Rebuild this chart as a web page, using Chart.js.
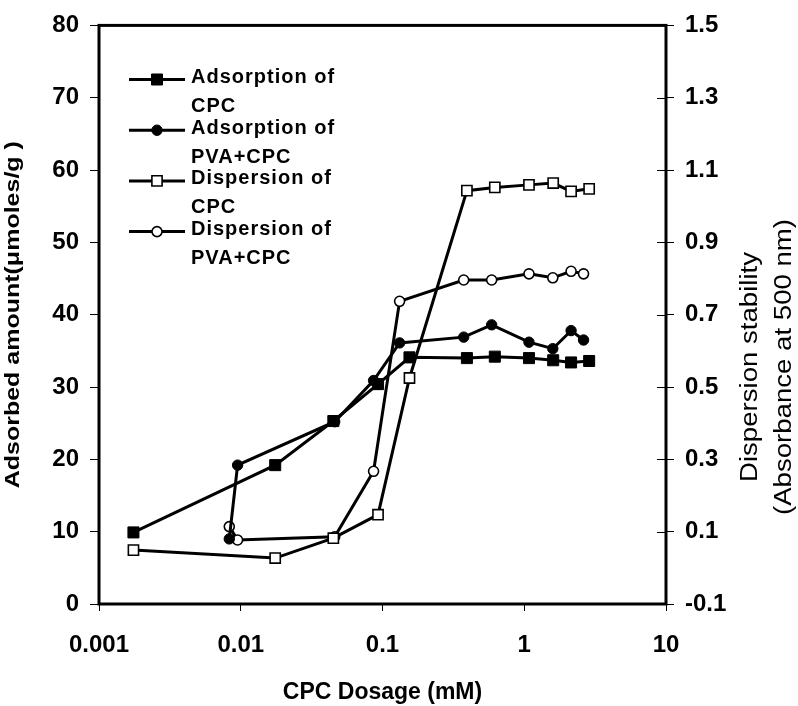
<!DOCTYPE html>
<html>
<head>
<meta charset="utf-8">
<script src="https://cdn.jsdelivr.net/npm/chart.js@4.4.1/dist/chart.umd.min.js"></script>
<style>
  html, body { margin: 0; padding: 0; background: #fff; }
  #wrap { width: 798px; height: 706px; }
</style>
</head>
<body>
<div id="wrap"><canvas id="chart" width="798" height="706"></canvas></div>
<script>
"use strict";

/* ================================
   DATA
   ================================ */
const cpcDose = [0.00175, 0.0175, 0.045, 0.093, 0.155, 0.394, 0.62, 1.08, 1.6, 2.14, 2.87];
const pvaDose = [0.0083, 0.0095, 0.046, 0.0865, 0.132, 0.374, 0.589, 1.08, 1.59, 2.14, 2.62];

// left axis: adsorbed amount (umoles/g)
const adsCpc    = [9.9, 19.2, 25.3, 30.4, 34.1, 34.0, 34.2, 34.0, 33.7, 33.4, 33.6];
const adsPvaCpc = [9.0, 19.2, 25.2, 30.9, 36.1, 36.9, 38.6, 36.2, 35.3, 37.8, 36.5];

// right axis: dispersion stability (absorbance)
const dispCpc    = [0.049, 0.027, 0.082, 0.147, 0.525, 1.043, 1.052, 1.059, 1.064, 1.041, 1.048];
const dispPvaCpc = [0.114, 0.077, 0.086, 0.267, 0.737, 0.796, 0.796, 0.813, 0.802, 0.820, 0.813];

const seriesLabels = [
  ["Adsorption of", "CPC"],
  ["Adsorption of", "PVA+CPC"],
  ["Dispersion of", "CPC"],
  ["Dispersion of", "PVA+CPC"]
];

const xTicks  = [0.001, 0.01, 0.1, 1, 10];
const xLabels = ["0.001", "0.01", "0.1", "1", "10"];
const yTicks  = [0, 10, 20, 30, 40, 50, 60, 70, 80];
const y2Ticks = [-0.1, 0.1, 0.3, 0.5, 0.7, 0.9, 1.1, 1.3, 1.5];

const xTitle  = "CPC Dosage (mM)";
const yTitle  = "Adsorbed amount(\u03bcmoles/g )";
const y2Title = ["Dispersion stability", "(Absorbance at 500 nm)"];

/* ================================
   HELPERS
   ================================ */
const FONT = "'Liberation Sans', Arial, sans-serif";

function pts(xs, ys) {
  return xs.map((x, i) => ({ x: x, y: ys[i] }));
}

function makeSeries(i, xs, ys, axis, style, filled, radius) {
  return {
    label: seriesLabels[i].join(" "),
    data: pts(xs, ys),
    yAxisID: axis,
    borderColor: "#000",
    borderWidth: 3,
    tension: 0,
    pointStyle: style,
    pointRadius: radius,
    pointBackgroundColor: filled ? "#000" : "#fff",
    pointBorderColor: "#000",
    pointBorderWidth: filled ? 1 : 1.6
  };
}

/* ================================
   PLUGIN: frame, inner ticks, legend, side titles
   ================================ */
const decor = {
  id: "decor",
  afterDraw(chart) {
    const ctx = chart.ctx;
    const a = chart.chartArea;
    ctx.save();

    // frame
    ctx.strokeStyle = "#000";
    ctx.lineWidth = 3;
    ctx.strokeRect(a.left, a.top, a.right - a.left, a.bottom - a.top);

    // right axis ticks cross the line
    const y2 = chart.scales.y2;
    ctx.lineWidth = 1;
    y2.ticks.forEach(t => {
      const py = Math.round(y2.getPixelForValue(t.value)) + 0.5;
      ctx.beginPath();
      ctx.moveTo(a.right - 9, py);
      ctx.lineTo(a.right, py);
      ctx.stroke();
    });

    // legend (two-line labels)
    ctx.textAlign = "left";
    ctx.textBaseline = "middle";
    ctx.font = "bold 20px " + FONT;
    ctx.letterSpacing = "1px";
    chart.data.datasets.forEach((ds, i) => {
      const yText = 77.5 + i * 50.7;
      const yLine = yText + 2;
      ctx.strokeStyle = "#000";
      ctx.lineWidth = 3;
      ctx.beginPath();
      ctx.moveTo(129, yLine);
      ctx.lineTo(185, yLine);
      ctx.stroke();
      ctx.fillStyle = ds.pointBackgroundColor;
      ctx.strokeStyle = ds.pointBorderColor;
      ctx.lineWidth = ds.pointBorderWidth;
      Chart.helpers.drawPoint(ctx, {
        pointStyle: ds.pointStyle,
        radius: ds.pointRadius,
        rotation: 0,
        borderWidth: ds.pointBorderWidth
      }, 157, yLine);
      ctx.fillStyle = "#000";
      seriesLabels[i].forEach((line, k) => {
        ctx.fillText(line, 191, yText + k * 28.8);
      });
    });
    ctx.letterSpacing = "0px";

    // left title (bottom-to-top)
    ctx.fillStyle = "#000";
    ctx.textAlign = "center";
    ctx.save();
    ctx.translate(13, (a.top + a.bottom) / 2);
    ctx.rotate(-Math.PI / 2);
    ctx.scale(1.19, 1);
    ctx.font = "bold 21px " + FONT;
    ctx.fillText(yTitle, 0, 0);
    ctx.restore();

    // right title (bottom-to-top, two lines)
    ctx.save();
    ctx.translate(751, 367);
    ctx.rotate(-Math.PI / 2);
    ctx.scale(1.2, 1);
    ctx.font = "23px " + FONT;
    ctx.fillText(y2Title[0], 0, 0);
    ctx.fillText(y2Title[1], 0, 34);
    ctx.restore();

    ctx.restore();
  }
};

/* ================================
   CHART
   ================================ */
const tickFont = { family: FONT, size: 24, weight: "bold" };

new Chart(document.getElementById("chart").getContext("2d"), {
  type: "line",
  data: {
    datasets: [
      makeSeries(0, cpcDose, adsCpc, "y", "rect", true, 7.8),
      makeSeries(1, pvaDose, adsPvaCpc, "y", "circle", true, 5.2),
      makeSeries(2, cpcDose, dispCpc, "y2", "rect", false, 7.2),
      makeSeries(3, pvaDose, dispPvaCpc, "y2", "circle", false, 5)
    ]
  },
  options: {
    responsive: false,
    animation: false,
    layout: { padding: { top: 17, left: 0, right: 0, bottom: 0 } },
    plugins: { legend: { display: false }, tooltip: { enabled: false } },
    scales: {
      x: {
        type: "logarithmic",
        position: "bottom",
        min: 0.001,
        max: 10,
        afterBuildTicks: s => { s.ticks = xTicks.map(v => ({ value: v })); },
        afterFit: s => { s.height = 102; },
        ticks: {
          autoSkip: false,
          maxRotation: 0,
          color: "#000",
          font: tickFont,
          padding: 20,
          callback: (v) => xLabels[xTicks.indexOf(v)] ?? ""
        },
        grid: { drawOnChartArea: false, drawTicks: true, tickLength: 7, color: "#000", lineWidth: 1 },
        border: { display: false },
        title: {
          display: true,
          text: xTitle,
          color: "#000",
          font: { family: FONT, size: 23, weight: "bold" },
          padding: { top: 0, bottom: 0 }
        }
      },
      y: {
        type: "linear",
        position: "left",
        min: 0,
        max: 80,
        afterBuildTicks: s => { s.ticks = yTicks.map(v => ({ value: v })); },
        afterFit: s => { s.width = 99; },
        ticks: { color: "#000", font: tickFont, padding: 11 },
        grid: { drawOnChartArea: false, drawTicks: true, tickLength: 9, color: "#000", lineWidth: 1 },
        border: { display: false }
      },
      y2: {
        type: "linear",
        position: "right",
        min: -0.1,
        max: 1.5,
        afterBuildTicks: s => { s.ticks = y2Ticks.map(v => ({ value: v })); },
        afterFit: s => { s.width = 132; },
        ticks: { color: "#000", font: tickFont, padding: 11, callback: v => v.toFixed(1) },
        grid: { drawOnChartArea: false, drawTicks: true, tickLength: 8, color: "#000", lineWidth: 1 },
        border: { display: false }
      }
    }
  },
  plugins: [decor]
});
</script>
</body>
</html>
